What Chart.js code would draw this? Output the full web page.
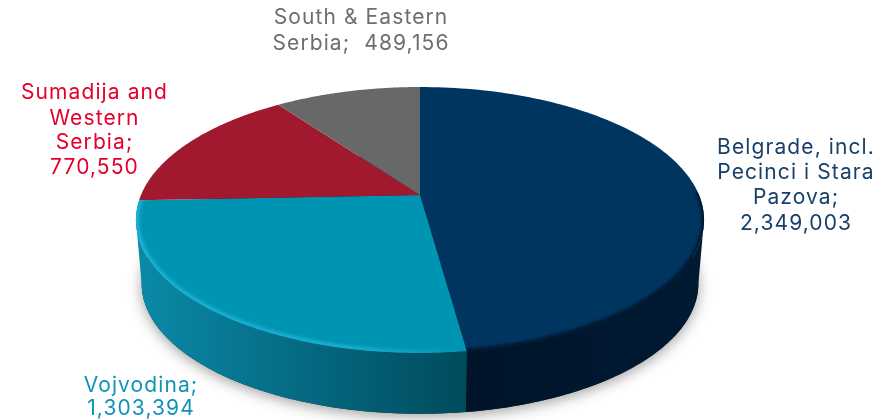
<!DOCTYPE html>
<html>
<head>
<meta charset="utf-8">
<title>Population by region</title>
<script src="https://cdn.jsdelivr.net/npm/chart.js@4"></script>
<style>
  html, body { margin: 0; background: #fff; }
  canvas { display: block; }
</style>
</head>
<body>
<canvas id="pie" width="891" height="420"></canvas>
<script>
// Population per region
const regions = ["Belgrade, incl. Pecinci i Stara Pazova", "Vojvodina", "Sumadija and Western Serbia", "South & Eastern Serbia"];
const population = [2349003, 1303394, 770550, 489156];
const topColors = ["#003560", "#0094b3", "#a1192e", "#686868"];
const wallLight = ["#00142a", "#0a8aa8", "#7c1323", "#4e4e4e"];
const wallDark = ["#001a33", "#004a5c", "#7c1323", "#4e4e4e"];
const labelColors = ["#17406b", "#0f94b8", "#e4002b", "#6d6e70"];

// line breaks of each label, the last entry gets the value
const labelLines = [
  ["Belgrade, incl.", "Pecinci i Stara", "Pazova;", ""],
  ["Vojvodina;", ""],
  ["Sumadija and", "Western", "Serbia;", ""],
  ["South & Eastern", "Serbia;  "]
];
const labelPlaces = [
  { x: 796, y: [154, 179, 204, 230] },
  { x: 141, y: [392, 415] },
  { x: 94.5, y: [99, 125, 149, 174] },
  { x: 361, y: [24, 50] }
];

// tilt of the disc
const squash = 0.4598, perspective = 0.188;
const wallDrop = 64, wallScale = 0.98;
// the near side of the rim starts and ends where the outline turns
const nearFrom = Math.asin(perspective), nearTo = Math.PI - nearFrom;

function project(arc, angle, scale, drop) {
  const w = 1 - perspective * Math.sin(angle);
  return {
    x: arc.x + scale * arc.outerRadius * Math.cos(angle) / w,
    y: arc.y + drop + scale * arc.outerRadius * squash * Math.sin(angle) / w
  };
}

function rimPoints(arc, from, to, scale, drop) {
  const pts = [], steps = 120;
  for (let i = 0; i <= steps; i++) {
    pts.push(project(arc, from + (to - from) * i / steps, scale, drop));
  }
  return pts;
}

function trace(ctx, pts) {
  pts.forEach((p, i) => i ? ctx.lineTo(p.x, p.y) : ctx.moveTo(p.x, p.y));
}

const disc3d = {
  id: "disc3d",
  beforeDatasetDraw(chart) {
    const ctx = chart.ctx;
    const arcs = chart.getDatasetMeta(0).data;
    ctx.save();

    // soft shadow under the disc
    ctx.save();
    ctx.shadowColor = "rgba(0,0,0,0.38)";
    ctx.shadowBlur = 14;
    ctx.shadowOffsetY = 3;
    ctx.fillStyle = "#222";
    ctx.beginPath();
    trace(ctx, rimPoints(arcs[0], 0, Math.PI * 2, wallScale, wallDrop));
    ctx.fill();
    ctx.restore();

    // side wall, only the near part of each slice shows
    arcs.forEach((arc, i) => {
      const from = Math.max(arc.startAngle, nearFrom), to = Math.min(arc.endAngle, nearTo);
      if (to <= from) return;
      const top = rimPoints(arc, from, to, 1, 0), bottom = rimPoints(arc, from, to, wallScale, wallDrop);
      const xs = top.map(p => p.x);
      const grad = ctx.createLinearGradient(Math.min(...xs), 0, Math.max(...xs), 0);
      grad.addColorStop(0, wallLight[i]);
      grad.addColorStop(1, wallDark[i]);
      ctx.fillStyle = grad;
      ctx.beginPath();
      trace(ctx, top);
      bottom.reverse().forEach(p => ctx.lineTo(p.x, p.y));
      ctx.closePath();
      ctx.fill();
    });

    // top face
    arcs.forEach(arc => {
      ctx.fillStyle = arc.options.backgroundColor;
      ctx.beginPath();
      ctx.moveTo(arc.x, arc.y);
      rimPoints(arc, arc.startAngle, arc.endAngle, 1, 0).forEach(p => ctx.lineTo(p.x, p.y));
      ctx.closePath();
      ctx.fill();
    });

    // bevel along the near rim of the two front slices
    arcs.slice(0, 2).forEach((arc, i) => {
      const from = Math.max(arc.startAngle, nearFrom - 0.2), to = Math.min(arc.endAngle, nearTo + 0.2);
      const pts = rimPoints(arc, from, to, 1, 0);
      ctx.save();
      ctx.beginPath();
      ctx.moveTo(arc.x, arc.y);
      rimPoints(arc, arc.startAngle, arc.endAngle, 1, 0).forEach(p => ctx.lineTo(p.x, p.y));
      ctx.closePath();
      ctx.clip();
      ctx.filter = "blur(1.5px)";
      if (i === 0) {
        ctx.strokeStyle = "#00152b";
        ctx.lineWidth = 5;
      } else {
        const xs = pts.map(p => p.x);
        const grad = ctx.createLinearGradient(Math.min(...xs), 0, Math.max(...xs), 0);
        grad.addColorStop(0, "rgba(24,176,212,1)");
        grad.addColorStop(0.65, "rgba(24,176,212,0.9)");
        grad.addColorStop(1, "rgba(24,176,212,0)");
        ctx.strokeStyle = grad;
        ctx.lineWidth = 7;
      }
      ctx.lineCap = "round";
      ctx.beginPath();
      trace(ctx, pts);
      ctx.stroke();
      ctx.restore();
    });

    ctx.restore();
    return false;
  },
  afterDatasetsDraw(chart) {
    const ctx = chart.ctx;
    ctx.save();
    ctx.font = "400 21px Inter";
    ctx.letterSpacing = "1.1px";
    ctx.textAlign = "center";
    ctx.textBaseline = "alphabetic";
    labelLines.forEach((lines, i) => {
      ctx.fillStyle = labelColors[i];
      lines.forEach((line, n) => {
        const text = n === lines.length - 1 ? line + population[i].toLocaleString("en-US") : line;
        ctx.fillText(text, labelPlaces[i].x, labelPlaces[i].y[n]);
      });
    });
    ctx.restore();
  }
};

new Chart(document.getElementById("pie"), {
  type: "pie",
  data: {
    labels: regions,
    datasets: [{ data: population, backgroundColor: topColors, borderWidth: 0 }]
  },
  options: {
    responsive: false,
    animation: false,
    radius: 279,
    layout: { padding: { right: 51, bottom: 30 } },
    plugins: { legend: { display: false }, tooltip: { enabled: false } }
  },
  plugins: [disc3d]
});
</script>
</body>
</html>
